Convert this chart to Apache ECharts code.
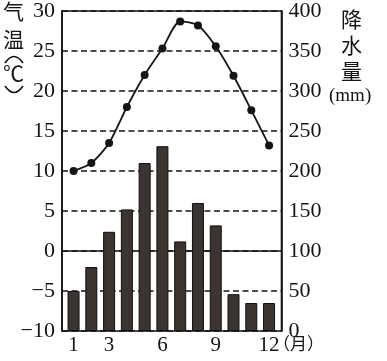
<!DOCTYPE html>
<html>
<head>
<meta charset="utf-8">
<script src="https://cdn.jsdelivr.net/npm/echarts@6/dist/echarts.min.js"></script>
<style>html,body{margin:0;padding:0;background:#fff}#c{width:387px;height:361px}</style>
</head>
<body>
<div id="c"></div>
<script>
var months = [1,2,3,4,5,6,7,8,9,10,11,12];
var temperature = [10.0, 11.0, 13.5, 18.0, 22.0, 25.3, 28.7, 28.2, 25.6, 21.9, 17.6, 13.2];
var precipitation = [50, 80, 124, 152, 210, 231, 112, 160, 132, 46, 35, 35];
var monthTicks = [1, 3, 6, 9, 12];
var tempTicks = {min: -10, max: 30, step: 5};
var precTicks = {min: 0, max: 400, step: 50};

var serif = "'Liberation Serif', 'DejaVu Serif', serif";
var cjk = "'Noto Sans CJK SC', sans-serif";
var ink = '#151515';

var chart = echarts.init(document.getElementById('c'), null, {renderer: 'canvas'});
function minus(v){ return String(v).replace('-', '\u2212'); }

var option = {
  animation: false,
  backgroundColor: '#fff',
  grid: {left: 62, right: 105.5, top: 11, bottom: 30, show: true, borderColor: ink, borderWidth: 1.6, backgroundColor: 'transparent'},
  xAxis: {
    type: 'value', min: 0.35, max: 12.7,
    axisLine: {show: true, lineStyle: {color: ink, width: 1.6}},
    axisTick: {show: false},
    splitLine: {show: false},
    axisLabel: {customValues: monthTicks, color: ink, fontFamily: serif, fontSize: 21, margin: 4}
  },
  yAxis: [{
    type: 'value', min: tempTicks.min, max: tempTicks.max, interval: tempTicks.step, position: 'left',
    axisLine: {show: true, lineStyle: {color: ink, width: 1.6}},
    axisTick: {show: false},
    axisLabel: {color: ink, fontFamily: serif, fontSize: 22, margin: 7, formatter: minus},
    splitLine: {show: true, lineStyle: {color: ink, width: 1.6, type: [6, 3.5]}}
  }, {
    type: 'value', min: precTicks.min, max: precTicks.max, interval: precTicks.step, position: 'right',
    axisLine: {show: true, lineStyle: {color: ink, width: 1.6}},
    axisTick: {show: false},
    axisLabel: {color: ink, fontFamily: serif, fontSize: 22, margin: 7},
    splitLine: {show: false}
  }],
  series: [{
    type: 'bar', yAxisIndex: 1, barWidth: 12,
    data: months.map(function(m, i){ return [m, precipitation[i]]; }),
    itemStyle: {color: '#3b3431', borderColor: '#111', borderWidth: 1},
    z: 2
  }, {
    type: 'line', yAxisIndex: 0, smooth: 0.25,
    data: months.map(function(m, i){ return [m, temperature[i]]; }),
    symbol: 'circle', symbolSize: 8,
    lineStyle: {color: ink, width: 1.8},
    itemStyle: {color: ink},
    z: 3
  }],
  graphic: [
    {type: 'text', left: 3, top: 1, style: {text: '气', font: '21px ' + cjk, fill: ink}},
    {type: 'text', left: 3, top: 29, style: {text: '温', font: '21px ' + cjk, fill: ink}},
    {type: 'bezierCurve', shape: {x1: 5, y1: 63, x2: 23, y2: 63, cpx1: 14, cpy1: 50}, style: {stroke: ink, lineWidth: 1.6, fill: null}},
    {type: 'text', left: 3, top: 63, style: {text: '\u2103', font: '21px ' + cjk, fill: ink}},
    {type: 'bezierCurve', shape: {x1: 5, y1: 86, x2: 23, y2: 86, cpx1: 14, cpy1: 99}, style: {stroke: ink, lineWidth: 1.6, fill: null}},
    {type: 'text', left: 341, top: 9, style: {text: '降', font: '21px ' + cjk, fill: ink}},
    {type: 'text', left: 341, top: 35, style: {text: '水', font: '21px ' + cjk, fill: ink}},
    {type: 'text', left: 341, top: 61, style: {text: '量', font: '21px ' + cjk, fill: ink}},
    {type: 'text', left: 329, top: 87, style: {text: '(mm)', font: '19px ' + serif, fill: ink}},
    {type: 'text', left: 273, top: 335, style: {text: '（月）', font: '17px ' + cjk, fill: ink}}
  ]
};
chart.setOption(option);
</script>
</body>
</html>
